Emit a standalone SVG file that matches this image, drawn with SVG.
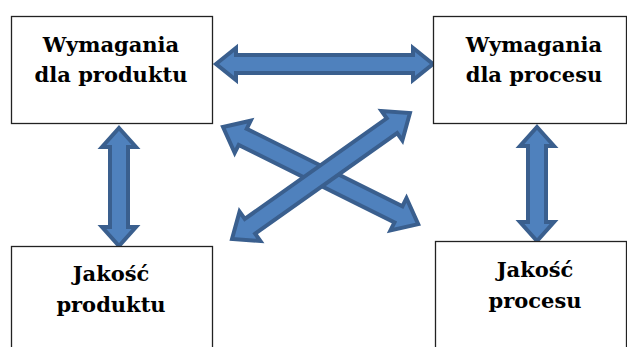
<svg xmlns="http://www.w3.org/2000/svg" width="627" height="347" viewBox="0 0 627 347">
<style>
.box{fill:#fff;stroke:#222;stroke-width:1.3}
.t{font-family:'DejaVu Serif',serif;font-weight:bold;font-size:21px;fill:#000;text-anchor:middle}
.arr{fill:#4F81BD;stroke:#3A5F8E;stroke-width:4;stroke-linejoin:miter}
</style>
<rect width="627" height="347" fill="#fff"/>
<g id="connectors">
<path class="arr" d="M216,64 L236,48 L236,55 L413,55 L413,48 L433,64 L413,80 L413,73 L236,73 L236,80 Z"/>
<path class="arr" d="M119,128 L136,147 L128,147 L128,227 L136,227 L119,246 L102,227 L110,227 L110,147 L102,147 Z"/>
<path class="arr" d="M537,127 L554,146 L546,146 L546,222 L554,222 L537,241 L520,222 L528,222 L528,146 L520,146 Z"/>
<path class="arr" transform="translate(223,127) rotate(26.45)" d="M0,0 L22,-18 L22,-9 L196,-9 L196,-18 L218,0 L196,18 L196,9 L22,9 L22,18 Z"/>
<path class="arr" transform="translate(232,239) rotate(-35.3)" d="M0,0 L22,-18 L22,-9 L196,-9 L196,-18 L218,0 L196,18 L196,9 L22,9 L22,18 Z"/>
</g>
<g id="n1">
<rect class="box" x="11.5" y="16.5" width="201" height="107"/>
<text class="t" x="111" y="52">Wymagania</text>
<text class="t" x="111" y="82">dla produktu</text>
</g>
<g id="n2">
<rect class="box" x="433.5" y="16.5" width="193" height="107"/>
<text class="t" x="534" y="52">Wymagania</text>
<text class="t" x="534" y="82">dla procesu</text>
</g>
<g id="n3">
<rect class="box" x="11.5" y="246.5" width="201" height="110"/>
<text class="t" x="111" y="281">Jakość</text>
<text class="t" x="111" y="312">produktu</text>
</g>
<g id="n4">
<rect class="box" x="435.5" y="241.5" width="191" height="115"/>
<text class="t" x="535" y="277">Jakość</text>
<text class="t" x="535" y="308">procesu</text>
</g>
</svg>
